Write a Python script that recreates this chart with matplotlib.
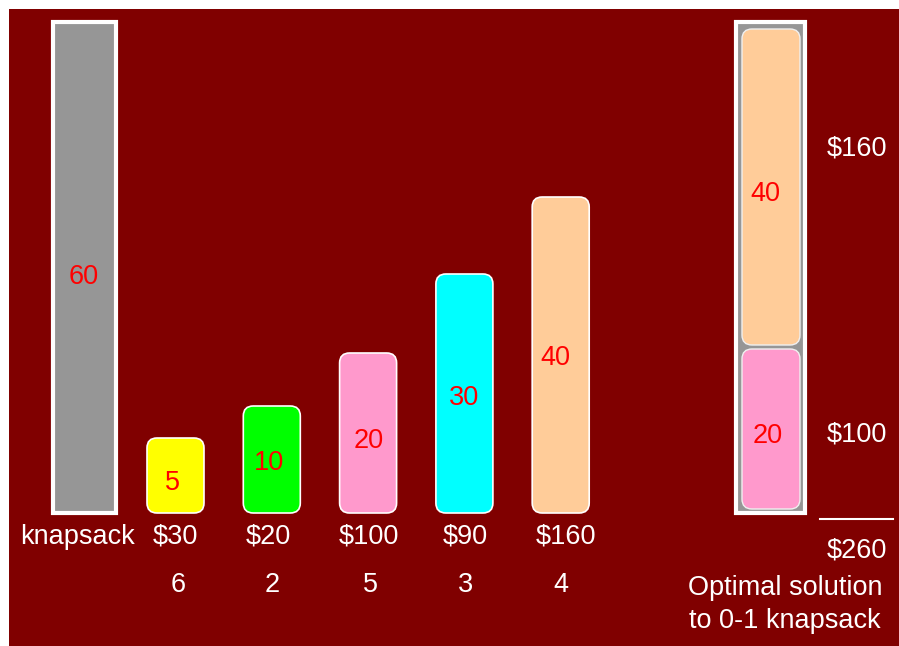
import matplotlib
matplotlib.use("Agg")
import matplotlib.pyplot as plt
from matplotlib.patches import Rectangle, FancyBboxPatch

# ---- data ----
weights = [5, 10, 20, 30, 40]
values = ["$30", "$20", "$100", "$90", "$160"]
ratios = [6, 2, 5, 3, 4]
item_colors = ["#ffff00", "#00ff00", "#ff99cc", "#00ffff", "#ffcc99"]
# drawn heights as they appear in the picture (not proportional in the original)
drawn_heights = [75, 107, 160, 239, 316]
knapsack_capacity = 60
knapsack_height = 491
solution_items = [2, 4]          # indices of items chosen (20 and 40)
solution_values = ["$100", "$160"]
solution_total = "$260"

BG = "#800000"
GRAY = "#969696"
FONT = "Liberation Sans"
FS = 19.5
DY = 3  # matplotlib 'center' sits slightly high vs. the original

# per-label fine placement (pixels)
label_dx = [-3, -3, 0.5, 0, -5]
label_dy = [4.5, 0, 5, 1.5, 0]
value_dx = [-0.5, -3, 0.5, 1, 5]
ratio_dx = [2.5, 0.5, 2.5, 1, 0]
sol_value_y = [431, 146]
sol_label_dy = [4, 4]

def txt(x, y, s, color="white"):
    ax.text(x, y + DY, s, color=color, fontsize=FS, family=FONT,
            ha="center", va="center")

fig = plt.figure(figsize=(8.99, 6.46), dpi=100)
fig.patch.set_facecolor("white")
ax = fig.add_axes([0, 0, 1, 1])
ax.set_xlim(0, 899)
ax.set_ylim(646, 0)
ax.axis("off")

ax.add_patch(Rectangle((9, 9), 890, 637, facecolor=BG, edgecolor="none"))

base = 513
# knapsack
ax.add_patch(Rectangle((53, base - knapsack_height), 63, knapsack_height,
                       facecolor=GRAY, edgecolor="white", lw=3))
txt(84, 274, str(knapsack_capacity), "red")
txt(77, 534, "knapsack")

# items
x0, step, w = 175.5, 96.3, 57
for i, (wt, val, r, c, h) in enumerate(zip(weights, values, ratios, item_colors, drawn_heights)):
    cx = x0 + i * step
    ax.add_patch(FancyBboxPatch((cx - w / 2, base - h), w, h,
                                boxstyle="round,pad=0,rounding_size=10",
                                facecolor=c, edgecolor="white", lw=1.2))
    txt(cx + label_dx[i], base - h / 2 + label_dy[i], str(wt), "red")
    txt(cx + value_dx[i], 534, val)
    txt(cx + ratio_dx[i], 582, str(r))

# optimal solution knapsack
ax.add_patch(Rectangle((736, 22), 69, knapsack_height,
                       facecolor=GRAY, edgecolor="white", lw=3))
bottom = 509
for k, idx in enumerate(solution_items):
    h = drawn_heights[idx]
    ax.add_patch(FancyBboxPatch((742, bottom - h), 58, h,
                                boxstyle="round,pad=0,rounding_size=10",
                                facecolor=item_colors[idx], edgecolor="#f0f0f0", lw=1))
    txt(768 - 3 * k, bottom - h / 2 + sol_label_dy[k], str(weights[idx]), "red")
    txt(857, sol_value_y[k], solution_values[k])
    bottom = bottom - h - 4

ax.plot([820, 893], [519, 519], color="white", lw=1.5)
txt(857, 548, solution_total)
txt(785, 585, "Optimal solution")
txt(785, 618, "to 0-1 knapsack")

fig.savefig("out.png", dpi=100, facecolor="white")
